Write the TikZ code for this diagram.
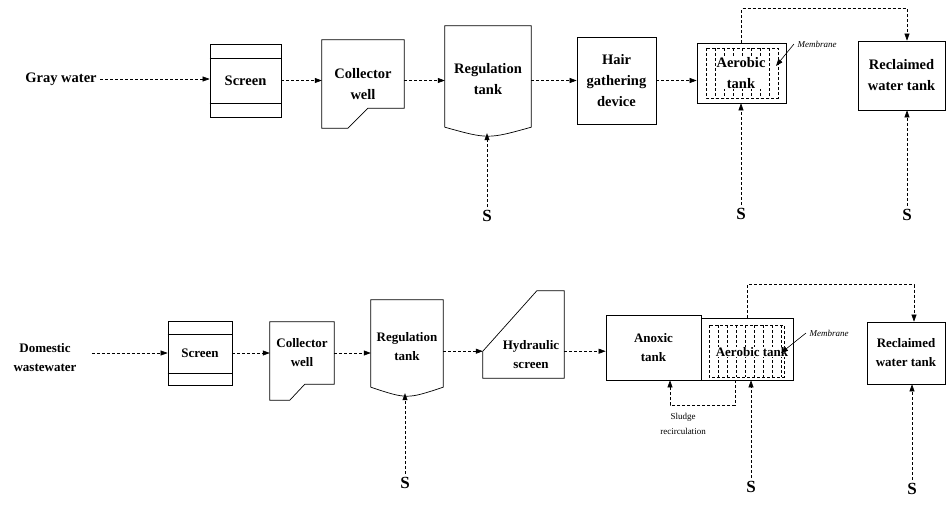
\documentclass[tikz,border=0pt]{standalone}
\usepackage{fontspec}
\setmainfont{Liberation Serif}
\usetikzlibrary{arrows.meta,calc}

\begin{document}
\begin{tikzpicture}[x=1pt, y=-1pt,
    blk/.style={draw, line width=0.7pt, inner sep=0pt, align=center},
    shp/.style={inner sep=0pt, align=center},
    ln/.style={line width=0.7pt},
    topfont/.style={font=\bfseries\fontsize{14.5}{21}\selectfont},
    botfont/.style={font=\bfseries\fontsize{13}{19}\selectfont},
    ssym/.style={font=\bfseries\fontsize{17}{17}\selectfont},
    memo/.style={font=\itshape\fontsize{9}{10}\selectfont},
    flow/.style={-{Triangle[length=7pt,width=5pt]}, line width=0.6pt, densely dashed}]
    \useasboundingbox (0,0) rectangle (946,531);

    % Gray water line
    \node[topfont] (gw) at (61,79) {Gray water};
    \node[blk, topfont, minimum width=71, minimum height=73] (scr1) at (245.5,80.5) {Screen};
    \draw[ln] ([yshift=-15]scr1.north west) -- ([yshift=-15]scr1.north east);
    \draw[ln] ([yshift=14]scr1.south west) -- ([yshift=14]scr1.south east);
    \node[shp, topfont, minimum width=82, minimum height=88] (cw1) at (363,84) {Collector\\well};
    \draw[ln] ([xshift=26]cw1.south west) -- (cw1.south west) -- (cw1.north west) -- (cw1.north east)
        -- ([yshift=20]cw1.south east) -- ([xshift=46,yshift=20]cw1.south west) -- cycle;
    \node[shp, topfont, minimum width=86, minimum height=107] (rt1) at (488,79.5) {Regulation\\tank};
    \draw[ln] ([yshift=6]rt1.south west) -- (rt1.north west) -- (rt1.north east) -- ([yshift=6]rt1.south east)
        .. controls ([yshift=-6]rt1.south) .. ([yshift=6]rt1.south west);
    \node[blk, topfont, minimum width=79, minimum height=87] (hg) at (616.5,80.5) {Hair\\gathering\\device};
    \node[blk, minimum width=89, minimum height=60] (at1) at (741.5,73) {};
    \draw[thin, densely dashed] (706,48) rectangle (778,98);
    \foreach \hx in {715,724,...,769} \draw[thin, densely dashed] (\hx,48) -- (\hx,98);
    \node[topfont, fill=white, inner sep=0.5pt, align=center] (at1t) at (741,73) {Aerobic\\tank};
    \node[blk, topfont, minimum width=87, minimum height=69] (rw1) at (901.5,75.5) {Reclaimed\\water tank};
    \draw[flow] (gw) -- (gw -| scr1.west);
    \draw[flow] (scr1) -- (scr1 -| cw1.west);
    \draw[flow] (scr1 -| cw1.east) -- (scr1 -| rt1.west);
    \draw[flow] (scr1 -| rt1.east) -- (scr1 -| hg.west);
    \draw[flow] (scr1 -| hg.east) -- (scr1 -| at1.west);
    \draw[flow] (at1.north) -- ++(0,-34) -| ([xshift=5.5]rw1.north);
    \node[memo] (mem1) at (817,44) {Membrane};
    \coordinate (m1) at (776,66);
    \draw[flow, solid] (mem1.west) -- (m1);
    \node[ssym] (s1) at (487,216) {S};
    \node[ssym] (s2) at (741,214) {S};
    \node[ssym] (s3) at (907,215) {S};
    \draw[flow] (s1) -- (s1 |- rt1.south);
    \draw[flow] (s2) -- (s2 |- at1.south);
    \draw[flow] (s3) -- (s3 |- rw1.south);

    % Domestic wastewater line
    \node[botfont, align=center] (dw) at (45,358) {Domestic\\wastewater};
    \node[blk, botfont, minimum width=64, minimum height=64] (scr2) at (200,353) {Screen};
    \draw[ln] ([yshift=-14]scr2.north west) -- ([yshift=-14]scr2.north east);
    \draw[ln] ([yshift=12]scr2.south west) -- ([yshift=12]scr2.south east);
    \node[shp, botfont, minimum width=64, minimum height=62] (cw2) at (302,353) {Collector\\well};
    \draw[ln] (cw2.south east) -- (cw2.north east) -- (cw2.north west) -- ([yshift=-16]cw2.south west)
        -- ([xshift=20,yshift=-16]cw2.south west) -- ([xshift=35]cw2.south west) -- cycle;
    \node[shp, botfont, minimum width=72, minimum height=93] (rt2) at (407,346.5) {Regulation\\tank};
    \draw[ln] ([yshift=6]rt2.south west) -- (rt2.north west) -- (rt2.north east) -- ([yshift=6]rt2.south east)
        .. controls ([yshift=-6]rt2.south) .. ([yshift=6]rt2.south west);
    \node[shp, minimum width=81, minimum height=87] (hs) at (523.5,334.5) {};
    \draw[ln] ([yshift=27]hs.south west) -- (hs.south west) -- (hs.south east) -- (hs.north east)
        -- ([xshift=54]hs.north west) -- cycle;
    \node[botfont, align=center] (hst) at (531,354.5) {Hydraulic\\screen};
    \coordinate (hsin) at ([yshift=27]hs.south west);
    \node[blk, botfont, minimum width=95, minimum height=65] (an) at (653.5,347.5) {Anoxic\\tank};
    \node[blk, minimum width=92, minimum height=62] (ab) at (747,349) {};
    \draw[thin, densely dashed] (709,325) rectangle (784,377);
    \foreach \hx in {718,727,...,781} \draw[thin, densely dashed] (\hx,325) -- (\hx,377);
    \node[botfont, fill=white, inner sep=0.5pt] (abt) at (752,352) {Aerobic tank};
    \node[blk, botfont, minimum width=78, minimum height=62] (rw2) at (906,353) {Reclaimed\\water tank};
    \draw[flow] ($(dw.east |- scr2)+(12,0)$) -- (scr2);
    \draw[flow] (scr2) -- (scr2 -| cw2.west);
    \draw[flow] (cw2) -- (cw2 -| rt2.west);
    \draw[flow] (hsin -| rt2.east) -- (hsin);
    \draw[flow] (hsin -| hs.east) -- (hsin -| an.west);
    \draw[flow] (ab.north) -- ++(0,-33) -| ([xshift=8]rw2.north);
    \node[memo] (mem2) at (829,333) {Membrane};
    \coordinate (m2) at (781,353);
    \draw[flow, solid] (mem2.west) -- (m2);
    \draw[flow] ([xshift=-12]ab.south) -- ++(0,25) -| ([xshift=16.5]an.south);
    \node[font=\fontsize{9}{15}\selectfont, align=center] (slt) at (683,424) {Sludge\\recirculation};
    \node[ssym] (s4) at (405,483) {S};
    \node[ssym] (s5) at (751,487) {S};
    \node[ssym] (s6) at (912,489) {S};
    \draw[flow] (s4) -- (s4 |- rt2.south);
    \draw[flow] (s5) -- (s5 |- ab.south);
    \draw[flow] (s6) -- (s6 |- rw2.south);
\end{tikzpicture}
\end{document}
